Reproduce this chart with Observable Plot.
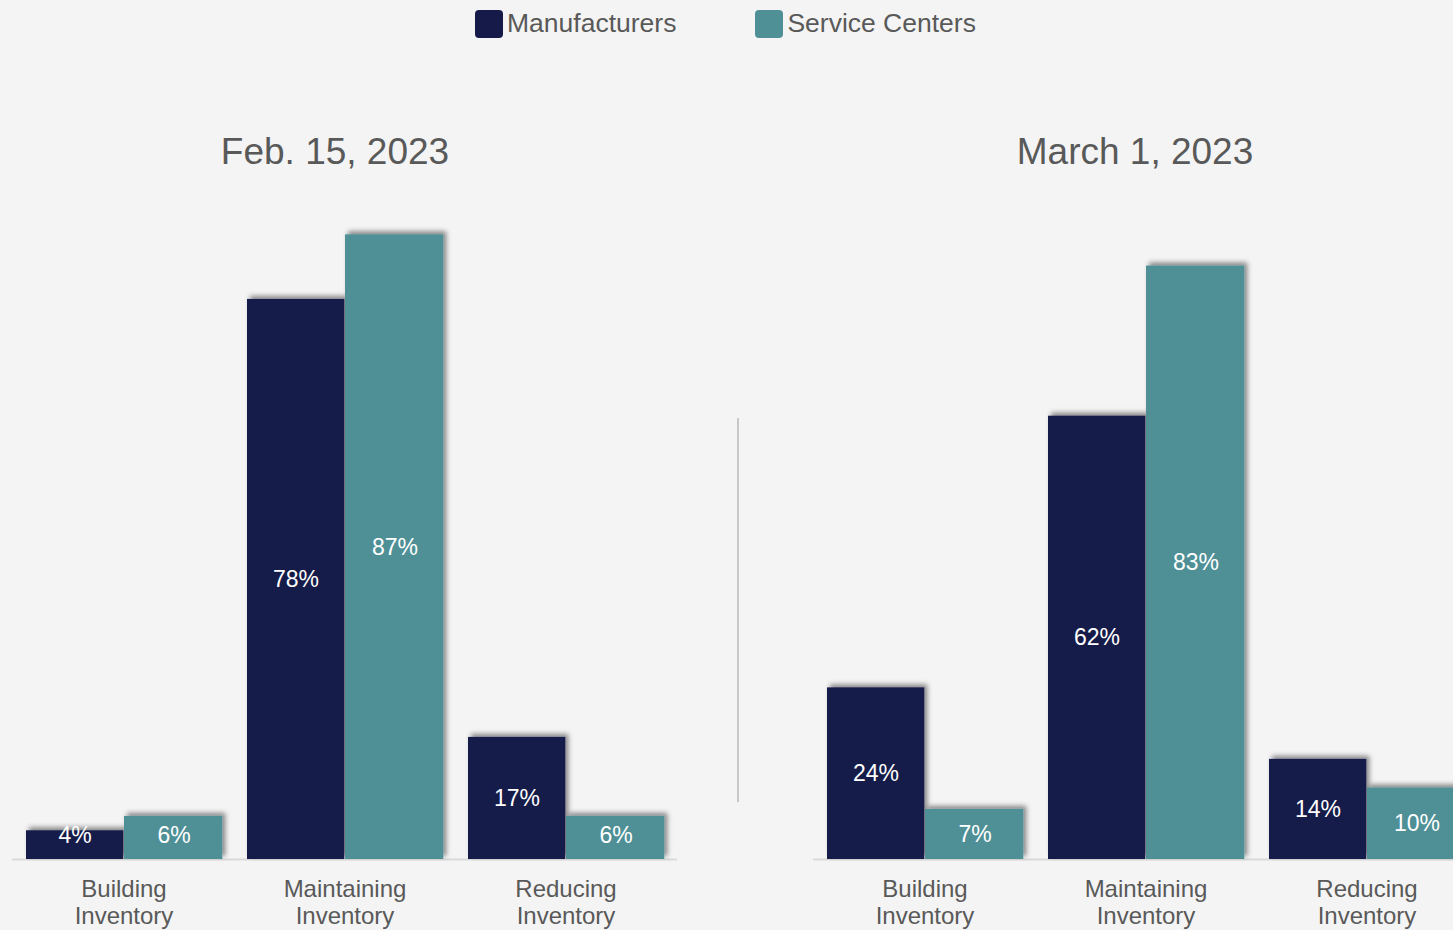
<!DOCTYPE html>
<html>
<head>
<meta charset="utf-8">
<script src="https://cdn.jsdelivr.net/npm/d3@7"></script>
<script src="https://cdn.jsdelivr.net/npm/@observablehq/plot@0.6"></script>
<style>
  html, body { margin: 0; padding: 0; background: #f4f4f4; width: 1453px; height: 930px; overflow: hidden; }
  body { position: relative; font-family: "Liberation Sans", Arial, sans-serif; color: #595959; }
  .panel { position: absolute; top: 0; }
  .title { position: absolute; top: 131px; font-size: 37px; text-align: center; width: 600px; white-space: nowrap; }
  .legend { position: absolute; top: 8px; left: 475px; font-size: 26.5px; display: flex; align-items: center; white-space: nowrap; }
  .sw { display: inline-block; width: 28px; height: 28px; border-radius: 4px; margin-right: 4px; }
  .divider { position: absolute; left: 737px; top: 418px; width: 2px; height: 384px; background: #c8c8c8; }
</style>
</head>
<body>
<script>
const categories = ["Building\nInventory", "Maintaining\nInventory", "Reducing\nInventory"];
const panelTitles = ["Feb. 15, 2023", "March 1, 2023"];
const seriesNames = ["Manufacturers", "Service Centers"];
const manufacturersFeb = [4, 78, 17];
const serviceCentersFeb = [6, 87, 6];
const manufacturersMar = [24, 62, 14];
const serviceCentersMar = [7, 83, 10];

const navy = "#161a49";
const teal = "#4f9097";

// Legend
const legend = document.createElement("div");
legend.className = "legend";
[[seriesNames[0], navy], [seriesNames[1], teal]].forEach(([name, col], i) => {
  const item = document.createElement("span");
  item.style.display = "inline-flex";
  item.style.alignItems = "center";
  item.style.marginRight = i === 0 ? "79px" : "0";
  const sw = document.createElement("span");
  sw.className = "sw";
  sw.style.background = col;
  const t = document.createElement("span");
  t.textContent = name;
  item.appendChild(sw); item.appendChild(t);
  legend.appendChild(item);
});
document.body.appendChild(legend);

function makePanel(title, mVals, sVals, left, titleCenter, marginTop) {
  const rows = categories.map((c, i) => ({category: c, m: mVals[i], s: sVals[i]}));
  const chart = Plot.plot({
    width: 700,
    height: 930,
    marginLeft: 12,
    marginRight: 23,
    marginTop: marginTop,
    marginBottom: 71,
    style: {background: "transparent", fontFamily: "'Liberation Sans', Arial, sans-serif", color: "#595959", overflow: "visible"},
    x: {domain: categories, padding: 0, axis: null, label: null},
    y: {domain: [0, 100], axis: null},
    marks: [
      Plot.ruleY([0], {stroke: "#d9d9d9", strokeWidth: 2}),
      Plot.barY(rows, {x: "category", y: "m", fill: navy, insetLeft: 13, insetRight: 110.7}),
      Plot.barY(rows, {x: "category", y: "s", fill: teal, insetLeft: 111, insetRight: 11.7}),
      Plot.text(rows, {x: "category", y: d => Math.max(d.m / 2, 3.3), text: d => d.m + "%", dx: -49, fill: "white", fontSize: 23}),
      Plot.text(rows, {x: "category", y: d => Math.max(d.s / 2, 3.3), text: d => d.s + "%", dx: 50, fill: "white", fontSize: 23}),
      Plot.axisX({tickSize: 0, tickPadding: 19, fontSize: 24, lineHeight: 1.1, fill: "#595959", label: null})
    ]
  });
  const svg = d3.select(chart);
  const fid = "shadow" + left;
  const defs = svg.insert("defs", ":first-child");
  const f = defs.append("filter").attr("id", fid).attr("x", "-20%").attr("y", "-20%").attr("width", "140%").attr("height", "140%");
  f.append("feDropShadow").attr("dx", 3).attr("dy", -3).attr("stdDeviation", 2.5).attr("flood-color", "#000").attr("flood-opacity", 0.45);
  svg.selectAll("g[aria-label=bar]").attr("filter", `url(#${fid})`);
  chart.classList.add("panel");
  chart.style.left = left + "px";
  document.body.appendChild(chart);

  const t = document.createElement("div");
  t.className = "title";
  t.textContent = title;
  t.style.left = (titleCenter - 300) + "px";
  document.body.appendChild(t);
}

makePanel(panelTitles[0], manufacturersFeb, serviceCentersFeb, 0, 335, 141);
makePanel(panelTitles[1], manufacturersMar, serviceCentersMar, 801, 1135, 144);

const div = document.createElement("div");
div.className = "divider";
document.body.appendChild(div);
</script>
</body>
</html>
